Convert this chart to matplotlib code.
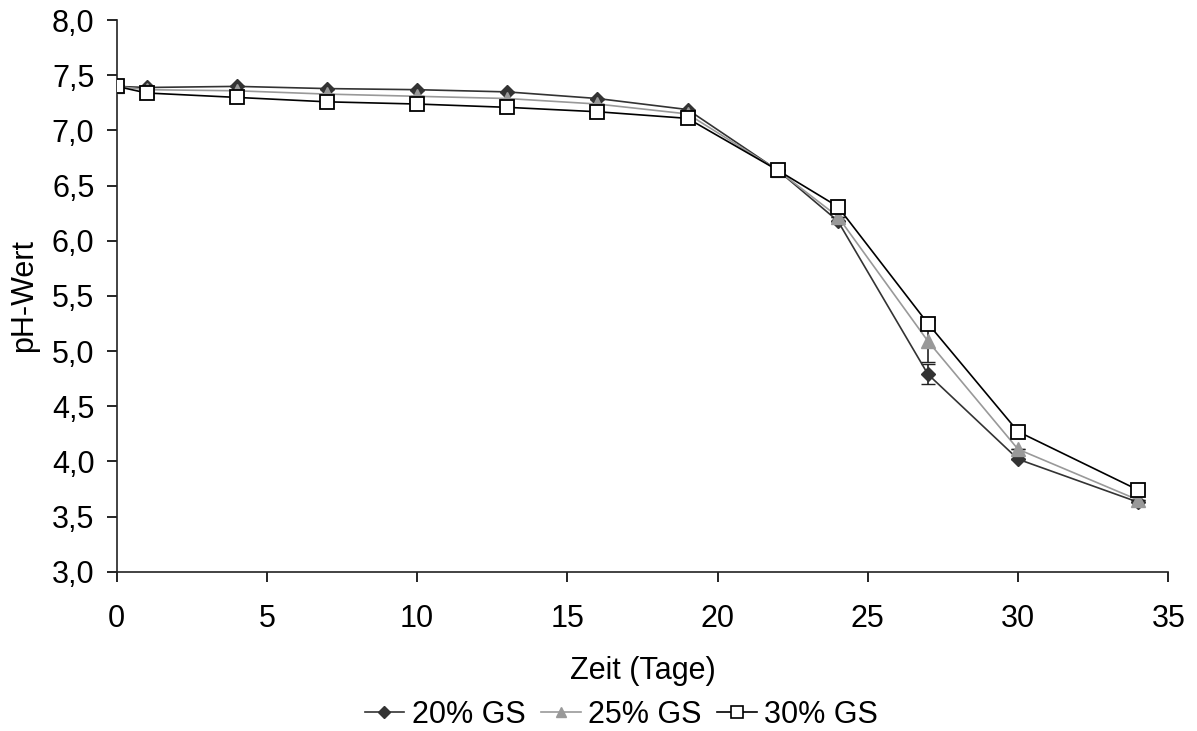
import matplotlib
matplotlib.use("Agg")
import matplotlib.pyplot as plt
import matplotlib.ticker as tick
from matplotlib.lines import Line2D

plt.rcParams['font.family'] = ['Liberation Sans', 'DejaVu Sans']

# Zeit in Tagen
tage = [0, 1, 4, 7, 10, 13, 16, 19, 22, 24, 27, 30, 34]

ph_20 = [7.40, 7.39, 7.40, 7.38, 7.37, 7.35, 7.29, 7.19, 6.64, 6.18, 4.79, 4.02, 3.63]
ph_25 = [7.40, 7.37, 7.36, 7.33, 7.31, 7.29, 7.24, 7.15, 6.64, 6.22, 5.09, 4.11, 3.65]
ph_30 = [7.40, 7.34, 7.30, 7.26, 7.24, 7.21, 7.17, 7.11, 6.64, 6.31, 5.25, 4.27, 3.74]

err_20 = [0, 0, 0, 0, 0, 0, 0, 0, 0, 0, 0.09, 0, 0]
err_25 = [0, 0, 0, 0, 0, 0, 0, 0, 0, 0, 0.19, 0, 0]

labels = ["20% GS", "25% GS", "30% GS"]

fs = 22
fig = plt.figure(figsize=(11.97, 7.31), dpi=100)
ax = fig.add_axes([116.7/1197, 1-571.7/731, (1168.3-116.7)/1197, (571.7-20.2)/731])

ax.errorbar(tage, ph_20, yerr=err_20, color="#333333", lw=1.2, marker="D", ms=7,
            mfc="#333333", mec="#333333", capsize=5, elinewidth=1.2, ecolor="#222222",
            zorder=3)
ax.errorbar(tage, ph_25, yerr=err_25, color="#999999", lw=1.2, marker="^", ms=10,
            mfc="#999999", mec="#999999", capsize=5, elinewidth=1.2, ecolor="#222222",
            zorder=4)
ax.plot(tage, ph_30, color="black", lw=1.2, marker="s", ms=10,
        mfc="white", mec="black", mew=1.3, zorder=5)

ax.set_xlim(0, 35)
ax.set_ylim(3.0, 8.0)
ax.set_xticks(range(0, 36, 5))
ax.set_yticks([3 + 0.5*i for i in range(11)])
ax.yaxis.set_major_formatter(tick.FuncFormatter(lambda v, p: f"{v:.1f}".replace(".", ",")))
ax.spines['top'].set_visible(False)
ax.spines['right'].set_visible(False)
for s in ['left', 'bottom']:
    ax.spines[s].set_linewidth(1.2)
    ax.spines[s].set_color("#222222")
ax.tick_params(direction="out", length=7, width=1.2, labelsize=fs, pad=9)
ax.tick_params(axis="x", pad=16)
ax.set_xlabel("Zeit (Tage)", fontsize=fs, labelpad=16)
ax.set_ylabel("pH-Wert", fontsize=fs, labelpad=9)

handles = [
    Line2D([], [], color="#333333", lw=1.2, marker="D", ms=6, mfc="#333333", mec="#333333"),
    Line2D([], [], color="#999999", lw=1.2, marker="^", ms=7, mfc="#999999", mec="#999999"),
    Line2D([], [], color="black", lw=1.2, marker="s", ms=8, mfc="white", mec="black", mew=1.2),
]
ax.legend(handles, labels, loc="center", bbox_to_anchor=(0.48, -0.26), ncol=3,
          frameon=False, fontsize=fs, handlelength=1.3, handletextpad=0.25,
          columnspacing=0.5, borderaxespad=0, borderpad=0)

fig.savefig("out.png", dpi=100)
